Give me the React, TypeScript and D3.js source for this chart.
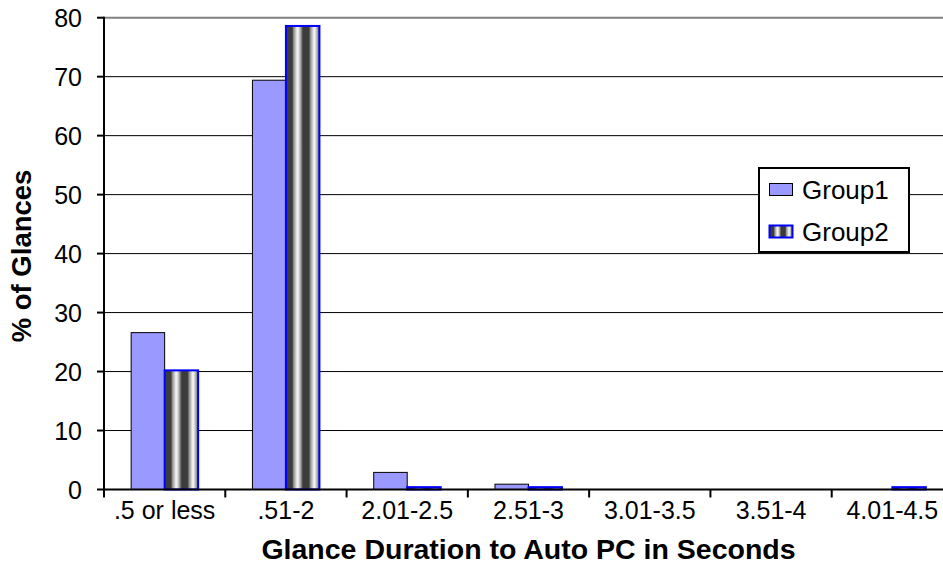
import React from "react";
import * as d3 from "d3";

const categories = [".5 or less", ".51-2", "2.01-2.5", "2.51-3", "3.01-3.5", "3.51-4", "4.01-4.5"];
const group1 = [26.6, 69.4, 2.9, 0.9, 0, 0, 0];
const group2 = [20.2, 78.6, 0.4, 0.4, 0, 0, 0.4];
const yTicks = [0, 10, 20, 30, 40, 50, 60, 70, 80];
const seriesNames = ["Group1", "Group2"];

const W = 943;
const H = 588;
const left = 104;
const right = 953;
const top = 17.7;
const bottom = 489.5;
const font = "'Liberation Sans', Arial, sans-serif";

export default function App() {
  const x = d3.scaleBand<string>().domain(categories).range([left, right]).paddingInner(0).paddingOuter(0);
  const y = d3.scaleLinear().domain([0, 80]).range([bottom, top]);
  const bw = x.bandwidth();
  const barW = 33.5;
  const off = (bw - 2 * barW) / 2;

  return (
    <svg width={W} height={H} style={{ position: "absolute", left: 0, top: 0, background: "#fff" }} fontFamily={font}>
      <defs>
        <linearGradient id="stripe" x1="0" x2="1" y1="0" y2="0">
          <stop offset="0" stopColor="#3c3c3c" />
          <stop offset="0.38" stopColor="#3c3c3c" />
          <stop offset="0.45" stopColor="#8a8a8a" />
          <stop offset="0.7" stopColor="#ffffff" />
          <stop offset="0.9" stopColor="#9a9a9a" />
          <stop offset="1" stopColor="#3c3c3c" />
        </linearGradient>
        <pattern id="g2pat" patternUnits="objectBoundingBox" width="0.5" height="1" patternContentUnits="objectBoundingBox">
          <rect x="0" y="0" width="0.5" height="1" fill="url(#stripe)" />
        </pattern>
      </defs>
      {/* gridlines */}
      {yTicks.filter((t) => t > 0).map((t) => (
        <line key={t} x1={left} x2={right} y1={y(t)} y2={y(t)} stroke={t === 80 ? "#808080" : "#000"} strokeWidth={t === 80 ? 2 : 1} />
      ))}
      {/* bars */}
      {categories.map((c, i) => {
        const x0 = (x(c) as number) + off;
        const h1 = bottom - y(group1[i]);
        const h2 = bottom - y(group2[i]);
        return (
          <g key={c}>
            {group1[i] > 0 && (
              <rect x={x0} y={y(group1[i])} width={barW} height={h1} fill="#9999ff" stroke="#000" strokeWidth={1} />
            )}
            {group2[i] > 0 && (
              <rect x={x0 + barW} y={y(group2[i])} width={barW} height={h2} fill="url(#g2pat)" stroke="#0000ff" strokeWidth={2} />
            )}
          </g>
        );
      })}
      {/* axes */}
      <line x1={left} x2={left} y1={top - 1} y2={bottom + 8} stroke="#000" strokeWidth={2} />
      <line x1={left} x2={right} y1={bottom} y2={bottom} stroke="#000" strokeWidth={2} />
      {yTicks.map((t) => (
        <g key={t}>
          <line x1={left - 7} x2={left} y1={y(t)} y2={y(t)} stroke="#000" strokeWidth={2} />
          <text x={82} y={y(t)} dy="0.36em" textAnchor="end" fontSize={25} fill="#000">{t}</text>
        </g>
      ))}
      {categories.map((c, i) => (
        <g key={c}>
          <line x1={(x(c) as number) + bw} x2={(x(c) as number) + bw} y1={bottom} y2={bottom + 8} stroke="#000" strokeWidth={2} />
          <text x={(x(c) as number) + bw / 2} y={519} textAnchor="middle" fontSize={25} fill="#000">{c}</text>
        </g>
      ))}
      {/* axis titles */}
      <text x={528.5} y={559} textAnchor="middle" fontSize={28.5} fontWeight="bold" fill="#000">Glance Duration to Auto PC in Seconds</text>
      <text transform={`translate(31,256) rotate(-90)`} textAnchor="middle" fontSize={27.5} fontWeight="bold" fill="#000">% of Glances</text>
      {/* legend */}
      <g>
        <rect x={759} y={168} width={150} height={84} fill="#fff" stroke="#000" strokeWidth={2} />
        {seriesNames.map((s, i) => (
          <g key={s} transform={`translate(0, ${i * 42})`}>
            <rect x={769.5} y={183.5} width={23} height={12} fill={i === 0 ? "#9999ff" : "url(#g2pat)"} stroke={i === 0 ? "#000" : "#0000ff"} strokeWidth={i === 0 ? 1 : 2} />
            <text x={802} y={199} fontSize={26} fill="#000">{s}</text>
          </g>
        ))}
      </g>
    </svg>
  );
}
